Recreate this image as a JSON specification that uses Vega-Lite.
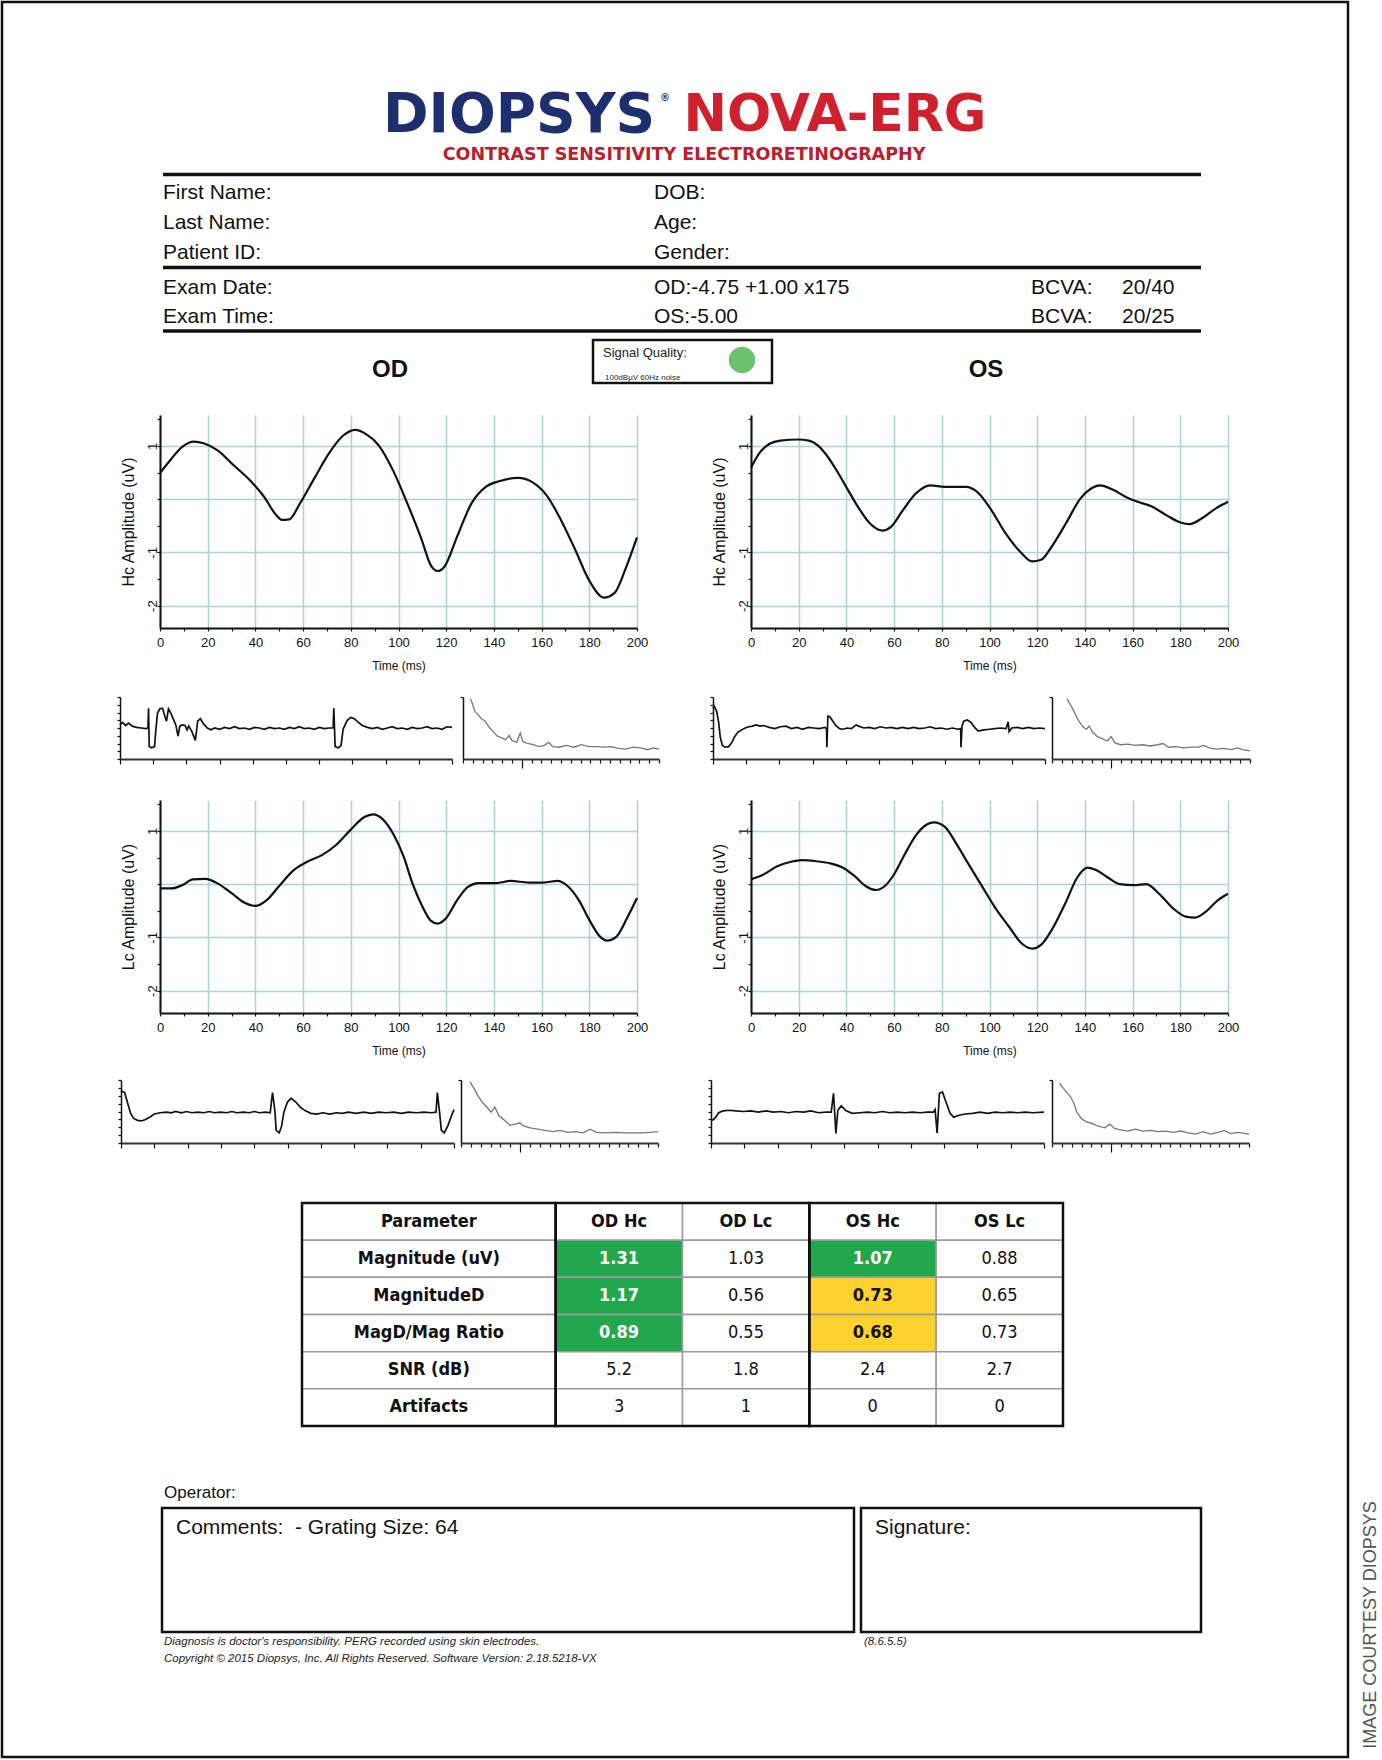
{
  "$schema": "https://vega.github.io/schema/vega-lite/v6.json",
  "width": 1346,
  "height": 1755,
  "autosize": {"type": "none"},
  "padding": {"left": 2, "top": 2, "right": 34, "bottom": 3},
  "background": "white",
  "config": {
    "view": {"stroke": "#111111", "strokeWidth": 2.5},
    "axis": {"domainColor": "#111111", "domainWidth": 2, "tickColor": "#111111", "tickWidth": 1.2, "tickSize": 3, "labelFont": "Liberation Sans", "labelFontSize": 13, "labelColor": "#111111", "titleFont": "Liberation Sans", "titleFontWeight": "normal", "titleColor": "#111111", "labelOverlap": false, "labelFlush": false, "grid": false},
    "text": {"font": "Liberation Sans"}
  },
  "resolve": {"scale": {"x": "independent", "y": "independent", "color": "independent", "size": "independent"}, "axis": {"x": "independent", "y": "independent"}},
  "datasets": {
    "info": [
      {"t": "First Name:", "c": 0, "r": 0}, {"t": "Last Name:", "c": 0, "r": 1}, {"t": "Patient ID:", "c": 0, "r": 2}, {"t": "Exam Date:", "c": 0, "r": 3}, {"t": "Exam Time:", "c": 0, "r": 4},
      {"t": "DOB:", "c": 1, "r": 0}, {"t": "Age:", "c": 1, "r": 1}, {"t": "Gender:", "c": 1, "r": 2}, {"t": "OD:-4.75 +1.00 x175", "c": 1, "r": 3}, {"t": "OS:-5.00", "c": 1, "r": 4},
      {"t": "BCVA:", "c": 2, "r": 3}, {"t": "BCVA:", "c": 2, "r": 4}, {"t": "20/40", "c": 3, "r": 3}, {"t": "20/25", "c": 3, "r": 4}
    ],
    "logo": [
      {"t": "DIOPSYS", "i": 0}, {"t": "NOVA-ERG", "i": 1}, {"t": "CONTRAST SENSITIVITY ELECTRORETINOGRAPHY", "i": 2}, {"t": "®", "i": 3}
    ],
    "eyes": [{"t": "OD", "i": 0}, {"t": "OS", "i": 1}],
    "sq": [{"t": "Signal Quality:", "i": 0}, {"t": "100dBµV 60Hz noise", "i": 1}],
    "sqdot": [{"i": 0}],
    "hlines": [{"line": 0, "a": 0, "b": 1}, {"line": 1, "a": 0, "b": 1}, {"line": 2, "a": 0, "b": 1}],
    "boxes": [
      {"box": "signal", "l": 0, "r": 1, "t": 0, "b": 1},
      {"box": "comments", "l": 2, "r": 3, "t": 2, "b": 3},
      {"box": "signature", "l": 4, "r": 5, "t": 2, "b": 3}
    ],
    "notes": [{"t": "Operator:", "i": 0}, {"t": "Comments:\u00a0 - Grating Size: 64", "i": 1}, {"t": "Signature:", "i": 2}],
    "foot": [
      {"t": "Diagnosis is doctor's responsibility. PERG recorded using skin electrodes.", "i": 0},
      {"t": "Copyright © 2015 Diopsys, Inc. All Rights Reserved. Software Version: 2.18.5218-VX", "i": 1},
      {"t": "(8.6.5.5)", "i": 2}
    ],
    "credit": [{"t": "IMAGE COURTESY DIOPSYS", "i": 0}],
    "hc_od": [
      {"ms": 0, "uV": 0.49}, {"ms": 4.8, "uV": 0.76}, {"ms": 9.3, "uV": 0.98}, {"ms": 14.1, "uV": 1.08}, {"ms": 18.3, "uV": 1.05}, {"ms": 24.3, "uV": 0.91}, {"ms": 30.3, "uV": 0.66}, {"ms": 37.8, "uV": 0.35}, {"ms": 43.7, "uV": 0.04}, {"ms": 48.2, "uV": -0.27}, {"ms": 51.2, "uV": -0.39}, {"ms": 54.2, "uV": -0.38}, {"ms": 58.7, "uV": -0.08}, {"ms": 64.7, "uV": 0.39}, {"ms": 70.7, "uV": 0.85}, {"ms": 76.7, "uV": 1.19}, {"ms": 81.9, "uV": 1.30}, {"ms": 86.4, "uV": 1.22}, {"ms": 91.7, "uV": 1.01}, {"ms": 97.7, "uV": 0.54}, {"ms": 103.7, "uV": -0.08}, {"ms": 109.7, "uV": -0.76}, {"ms": 113.4, "uV": -1.23}, {"ms": 116.4, "uV": -1.35}, {"ms": 119.4, "uV": -1.26}, {"ms": 124.6, "uV": -0.70}, {"ms": 130.6, "uV": -0.08}, {"ms": 136.6, "uV": 0.23}, {"ms": 142.6, "uV": 0.34}, {"ms": 150.1, "uV": 0.40}, {"ms": 156.1, "uV": 0.32}, {"ms": 162.1, "uV": 0.07}, {"ms": 168.1, "uV": -0.39}, {"ms": 174.1, "uV": -0.95}, {"ms": 180.1, "uV": -1.54}, {"ms": 186.1, "uV": -1.85}, {"ms": 190.6, "uV": -1.76}, {"ms": 195.1, "uV": -1.32}, {"ms": 200, "uV": -0.72}
    ],
    "hc_os": [
      {"ms": 0, "uV": 0.59}, {"ms": 3.3, "uV": 0.85}, {"ms": 7.8, "uV": 1.04}, {"ms": 12.3, "uV": 1.10}, {"ms": 19.8, "uV": 1.12}, {"ms": 24.3, "uV": 1.10}, {"ms": 28.0, "uV": 1.01}, {"ms": 31.8, "uV": 0.82}, {"ms": 36.3, "uV": 0.51}, {"ms": 40.7, "uV": 0.17}, {"ms": 45.2, "uV": -0.17}, {"ms": 49.7, "uV": -0.45}, {"ms": 55.0, "uV": -0.59}, {"ms": 58.7, "uV": -0.52}, {"ms": 63.2, "uV": -0.24}, {"ms": 69.2, "uV": 0.11}, {"ms": 75.2, "uV": 0.26}, {"ms": 81.2, "uV": 0.23}, {"ms": 90.2, "uV": 0.23}, {"ms": 94.7, "uV": 0.14}, {"ms": 100.7, "uV": -0.20}, {"ms": 106.7, "uV": -0.64}, {"ms": 112.7, "uV": -0.98}, {"ms": 117.9, "uV": -1.17}, {"ms": 121.6, "uV": -1.14}, {"ms": 126.1, "uV": -0.89}, {"ms": 132.1, "uV": -0.45}, {"ms": 138.1, "uV": 0.01}, {"ms": 142.6, "uV": 0.20}, {"ms": 146.4, "uV": 0.26}, {"ms": 151.6, "uV": 0.18}, {"ms": 157.6, "uV": 0.03}, {"ms": 162.1, "uV": -0.05}, {"ms": 168.1, "uV": -0.14}, {"ms": 174.1, "uV": -0.30}, {"ms": 180.1, "uV": -0.44}, {"ms": 183.8, "uV": -0.47}, {"ms": 189.1, "uV": -0.36}, {"ms": 195.1, "uV": -0.17}, {"ms": 200, "uV": -0.05}
    ],
    "lc_od": [
      {"ms": 0, "uV": -0.08}, {"ms": 4.8, "uV": -0.08}, {"ms": 9.3, "uV": -0.02}, {"ms": 13.8, "uV": 0.09}, {"ms": 19.0, "uV": 0.10}, {"ms": 24.3, "uV": 0.01}, {"ms": 30.3, "uV": -0.18}, {"ms": 35.5, "uV": -0.35}, {"ms": 40.0, "uV": -0.41}, {"ms": 44.5, "uV": -0.31}, {"ms": 49.7, "uV": -0.05}, {"ms": 55.7, "uV": 0.25}, {"ms": 61.7, "uV": 0.42}, {"ms": 67.7, "uV": 0.54}, {"ms": 73.7, "uV": 0.73}, {"ms": 79.7, "uV": 1.01}, {"ms": 85.7, "uV": 1.26}, {"ms": 89.4, "uV": 1.31}, {"ms": 93.1, "uV": 1.23}, {"ms": 97.7, "uV": 0.95}, {"ms": 102.2, "uV": 0.51}, {"ms": 105.9, "uV": 0.01}, {"ms": 109.7, "uV": -0.39}, {"ms": 113.4, "uV": -0.68}, {"ms": 116.4, "uV": -0.74}, {"ms": 120.1, "uV": -0.63}, {"ms": 124.6, "uV": -0.30}, {"ms": 129.1, "uV": -0.05}, {"ms": 133.6, "uV": 0.02}, {"ms": 141.1, "uV": 0.02}, {"ms": 147.1, "uV": 0.06}, {"ms": 154.6, "uV": 0.03}, {"ms": 160.6, "uV": 0.03}, {"ms": 166.6, "uV": 0.06}, {"ms": 171.0, "uV": -0.04}, {"ms": 175.6, "uV": -0.30}, {"ms": 180.1, "uV": -0.68}, {"ms": 184.6, "uV": -0.99}, {"ms": 187.5, "uV": -1.06}, {"ms": 191.3, "uV": -0.99}, {"ms": 195.8, "uV": -0.64}, {"ms": 200, "uV": -0.26}
    ],
    "lc_os": [
      {"ms": 0, "uV": 0.09}, {"ms": 4.8, "uV": 0.17}, {"ms": 10.8, "uV": 0.33}, {"ms": 16.8, "uV": 0.42}, {"ms": 21.3, "uV": 0.45}, {"ms": 27.3, "uV": 0.43}, {"ms": 33.3, "uV": 0.39}, {"ms": 39.3, "uV": 0.29}, {"ms": 43.7, "uV": 0.14}, {"ms": 48.2, "uV": -0.04}, {"ms": 52.4, "uV": -0.11}, {"ms": 56.5, "uV": -0.02}, {"ms": 60.2, "uV": 0.20}, {"ms": 64.7, "uV": 0.58}, {"ms": 69.2, "uV": 0.92}, {"ms": 73.7, "uV": 1.12}, {"ms": 76.7, "uV": 1.16}, {"ms": 81.2, "uV": 1.08}, {"ms": 85.7, "uV": 0.79}, {"ms": 90.2, "uV": 0.45}, {"ms": 96.2, "uV": 0.01}, {"ms": 102.2, "uV": -0.43}, {"ms": 108.2, "uV": -0.80}, {"ms": 113.4, "uV": -1.11}, {"ms": 117.9, "uV": -1.21}, {"ms": 121.6, "uV": -1.14}, {"ms": 126.1, "uV": -0.86}, {"ms": 132.1, "uV": -0.33}, {"ms": 136.6, "uV": 0.11}, {"ms": 141.1, "uV": 0.31}, {"ms": 144.9, "uV": 0.26}, {"ms": 150.1, "uV": 0.11}, {"ms": 154.6, "uV": 0.00}, {"ms": 160.6, "uV": -0.02}, {"ms": 165.8, "uV": 0.00}, {"ms": 171.1, "uV": -0.18}, {"ms": 177.1, "uV": -0.46}, {"ms": 182.3, "uV": -0.61}, {"ms": 186.1, "uV": -0.63}, {"ms": 190.6, "uV": -0.52}, {"ms": 195.8, "uV": -0.30}, {"ms": 200, "uV": -0.18}
    ],
    "n_hc_od_t": [
      {"x": 0, "y": 5.5}, {"x": 0.8, "y": 5.9}, {"x": 1.7, "y": 5.4}, {"x": 2.6, "y": 5.8}, {"x": 3.7, "y": 5.3}, {"x": 5.0, "y": 5.1}, {"x": 6.4, "y": 5.0}, {"x": 7.8, "y": 4.9}, {"x": 8.4, "y": 5.0}, {"x": 8.6, "y": 8.2}, {"x": 8.8, "y": 2.0}, {"x": 9.5, "y": 1.8}, {"x": 10.4, "y": 2.0}, {"x": 10.8, "y": 4.7}, {"x": 11.3, "y": 7.4}, {"x": 12.0, "y": 8.1}, {"x": 12.8, "y": 8.2}, {"x": 13.5, "y": 6.9}, {"x": 14.0, "y": 6.1}, {"x": 14.6, "y": 8.1}, {"x": 15.3, "y": 7.4}, {"x": 16.0, "y": 6.5}, {"x": 16.8, "y": 5.5}, {"x": 17.5, "y": 3.7}, {"x": 18.0, "y": 5.3}, {"x": 18.7, "y": 5.5}, {"x": 19.6, "y": 5.4}, {"x": 20.2, "y": 4.7}, {"x": 20.7, "y": 5.3}, {"x": 21.6, "y": 4.5}, {"x": 22.7, "y": 3.0}, {"x": 23.4, "y": 6.1}, {"x": 24.2, "y": 6.5}, {"x": 25.1, "y": 5.7}, {"x": 26.3, "y": 5.0}, {"x": 27.4, "y": 4.7}, {"x": 28.5, "y": 5.0}, {"x": 30, "y": 4.8}, {"x": 31.5, "y": 5.1}, {"x": 33, "y": 4.9}, {"x": 34.5, "y": 5.2}, {"x": 36, "y": 4.9}, {"x": 37.5, "y": 5.0}, {"x": 39, "y": 4.8}, {"x": 40.5, "y": 5.1}, {"x": 42, "y": 5.0}, {"x": 43.5, "y": 4.8}, {"x": 45, "y": 5.1}, {"x": 46.5, "y": 4.9}, {"x": 48, "y": 5.0}, {"x": 49.5, "y": 4.8}, {"x": 51, "y": 5.1}, {"x": 52.5, "y": 4.9}, {"x": 54, "y": 5.2}, {"x": 55.5, "y": 4.9}, {"x": 57, "y": 5.0}, {"x": 58.5, "y": 4.8}, {"x": 60, "y": 5.1}, {"x": 61.5, "y": 4.9}, {"x": 63, "y": 5.0}, {"x": 64.2, "y": 5.0}, {"x": 64.4, "y": 8.2}, {"x": 64.8, "y": 2.0}, {"x": 65.8, "y": 1.8}, {"x": 66.6, "y": 2.2}, {"x": 67.2, "y": 4.8}, {"x": 68.4, "y": 6.2}, {"x": 69.5, "y": 6.7}, {"x": 70.6, "y": 6.5}, {"x": 71.8, "y": 5.9}, {"x": 73, "y": 5.4}, {"x": 74.5, "y": 5.1}, {"x": 76, "y": 4.9}, {"x": 77.5, "y": 5.1}, {"x": 79, "y": 4.8}, {"x": 80.5, "y": 5.0}, {"x": 82, "y": 5.2}, {"x": 83.5, "y": 4.9}, {"x": 85, "y": 5.0}, {"x": 86.5, "y": 4.8}, {"x": 88, "y": 5.1}, {"x": 89.5, "y": 4.9}, {"x": 91, "y": 5.0}, {"x": 92.5, "y": 5.2}, {"x": 94, "y": 4.9}, {"x": 95.5, "y": 5.0}, {"x": 97, "y": 4.8}, {"x": 98.5, "y": 5.2}, {"x": 100, "y": 5.1}
    ],
    "n_hc_od_f": [
      {"x": 3.8, "y": 9.7}, {"x": 4.7, "y": 9.0}, {"x": 6.0, "y": 7.7}, {"x": 7.5, "y": 7.2}, {"x": 9.4, "y": 6.5}, {"x": 11.3, "y": 6.1}, {"x": 13.2, "y": 5.2}, {"x": 15.1, "y": 4.5}, {"x": 17.4, "y": 3.7}, {"x": 19.8, "y": 3.4}, {"x": 21.7, "y": 3.1}, {"x": 23.6, "y": 3.8}, {"x": 24.9, "y": 3.0}, {"x": 27.4, "y": 2.7}, {"x": 29.2, "y": 4.2}, {"x": 30.6, "y": 2.8}, {"x": 33.0, "y": 2.5}, {"x": 35.8, "y": 2.3}, {"x": 38.7, "y": 2.0}, {"x": 41.5, "y": 2.2}, {"x": 43.8, "y": 2.7}, {"x": 45.7, "y": 2.0}, {"x": 49.1, "y": 1.9}, {"x": 52.8, "y": 2.2}, {"x": 56.6, "y": 1.9}, {"x": 60.4, "y": 2.3}, {"x": 64.2, "y": 2.0}, {"x": 67.9, "y": 2.0}, {"x": 71.7, "y": 1.9}, {"x": 75.5, "y": 2.0}, {"x": 79.2, "y": 1.7}, {"x": 83.0, "y": 1.6}, {"x": 86.8, "y": 1.9}, {"x": 90.6, "y": 1.8}, {"x": 94.3, "y": 1.5}, {"x": 97.2, "y": 1.8}, {"x": 100, "y": 1.6}
    ],
    "n_hc_os_t": [
      {"x": 0, "y": 8.2}, {"x": 0.4, "y": 8.5}, {"x": 1.1, "y": 7.7}, {"x": 1.7, "y": 5.9}, {"x": 2.2, "y": 3.5}, {"x": 2.8, "y": 2.2}, {"x": 3.6, "y": 1.9}, {"x": 4.7, "y": 2.0}, {"x": 5.6, "y": 2.6}, {"x": 6.5, "y": 3.6}, {"x": 7.5, "y": 4.3}, {"x": 8.6, "y": 4.7}, {"x": 9.7, "y": 5.0}, {"x": 10.8, "y": 5.2}, {"x": 11.9, "y": 5.3}, {"x": 13.0, "y": 5.5}, {"x": 14.2, "y": 5.3}, {"x": 15.3, "y": 5.4}, {"x": 16.9, "y": 5.1}, {"x": 18.6, "y": 4.9}, {"x": 20.3, "y": 5.2}, {"x": 22.0, "y": 5.3}, {"x": 23.6, "y": 4.9}, {"x": 25.3, "y": 5.1}, {"x": 27.0, "y": 4.8}, {"x": 28.7, "y": 5.1}, {"x": 30.3, "y": 5.0}, {"x": 32.0, "y": 4.9}, {"x": 33.7, "y": 5.1}, {"x": 34.2, "y": 4.9}, {"x": 34.3, "y": 1.9}, {"x": 34.6, "y": 6.9}, {"x": 35.2, "y": 6.8}, {"x": 36.1, "y": 6.1}, {"x": 37.0, "y": 5.4}, {"x": 38.1, "y": 4.9}, {"x": 39.2, "y": 4.8}, {"x": 40.4, "y": 5.0}, {"x": 41.7, "y": 4.9}, {"x": 43.1, "y": 5.5}, {"x": 43.9, "y": 5.3}, {"x": 45.4, "y": 5.0}, {"x": 47.0, "y": 5.1}, {"x": 48.7, "y": 4.9}, {"x": 50.4, "y": 5.2}, {"x": 52.1, "y": 5.0}, {"x": 53.7, "y": 5.1}, {"x": 55.4, "y": 4.9}, {"x": 57.1, "y": 5.1}, {"x": 58.8, "y": 4.9}, {"x": 60.4, "y": 5.1}, {"x": 62.1, "y": 4.9}, {"x": 63.8, "y": 5.0}, {"x": 65.4, "y": 5.2}, {"x": 67.1, "y": 4.9}, {"x": 68.8, "y": 5.0}, {"x": 70.5, "y": 4.8}, {"x": 72.1, "y": 5.0}, {"x": 73.8, "y": 4.8}, {"x": 74.6, "y": 4.9}, {"x": 74.7, "y": 1.9}, {"x": 75.0, "y": 5.3}, {"x": 75.5, "y": 6.1}, {"x": 76.6, "y": 6.3}, {"x": 77.7, "y": 5.9}, {"x": 78.8, "y": 5.1}, {"x": 79.9, "y": 4.5}, {"x": 81.6, "y": 4.7}, {"x": 83.3, "y": 4.8}, {"x": 84.9, "y": 4.9}, {"x": 86.6, "y": 5.0}, {"x": 88.3, "y": 4.9}, {"x": 88.9, "y": 6.0}, {"x": 89.2, "y": 4.4}, {"x": 90.0, "y": 5.0}, {"x": 91.6, "y": 5.1}, {"x": 93.3, "y": 4.9}, {"x": 95.0, "y": 5.1}, {"x": 96.7, "y": 4.9}, {"x": 98.3, "y": 5.0}, {"x": 100, "y": 4.9}
    ],
    "n_hc_os_f": [
      {"x": 7.5, "y": 9.7}, {"x": 8.8, "y": 9.0}, {"x": 10.3, "y": 8.2}, {"x": 11.8, "y": 7.2}, {"x": 13.6, "y": 6.1}, {"x": 15.9, "y": 5.1}, {"x": 17.4, "y": 4.8}, {"x": 18.7, "y": 5.3}, {"x": 20.6, "y": 4.3}, {"x": 23.0, "y": 3.6}, {"x": 25.2, "y": 3.3}, {"x": 28.0, "y": 2.9}, {"x": 29.9, "y": 3.6}, {"x": 31.8, "y": 2.6}, {"x": 34.6, "y": 2.3}, {"x": 38.3, "y": 2.4}, {"x": 42.1, "y": 2.2}, {"x": 45.8, "y": 2.3}, {"x": 49.5, "y": 2.1}, {"x": 53.3, "y": 2.3}, {"x": 56.1, "y": 2.5}, {"x": 58.9, "y": 1.9}, {"x": 62.6, "y": 2.0}, {"x": 66.4, "y": 1.8}, {"x": 70.1, "y": 1.9}, {"x": 73.8, "y": 1.9}, {"x": 76.6, "y": 2.2}, {"x": 79.4, "y": 1.8}, {"x": 83.2, "y": 1.6}, {"x": 86.9, "y": 1.7}, {"x": 90.7, "y": 1.5}, {"x": 93.5, "y": 1.8}, {"x": 96.3, "y": 1.5}, {"x": 100, "y": 1.3}
    ],
    "n_lc_od_t": [
      {"x": 0, "y": 8.3}, {"x": 1.1, "y": 8.0}, {"x": 2.0, "y": 6.3}, {"x": 2.9, "y": 4.7}, {"x": 3.8, "y": 3.9}, {"x": 5.0, "y": 3.6}, {"x": 6.1, "y": 3.5}, {"x": 7.2, "y": 3.7}, {"x": 8.6, "y": 4.1}, {"x": 10.0, "y": 4.6}, {"x": 11.8, "y": 4.8}, {"x": 13.6, "y": 4.9}, {"x": 15.2, "y": 4.8}, {"x": 16.3, "y": 5.0}, {"x": 18.1, "y": 4.8}, {"x": 19.7, "y": 5.0}, {"x": 21.3, "y": 4.8}, {"x": 23.1, "y": 4.9}, {"x": 24.9, "y": 4.8}, {"x": 26.5, "y": 5.0}, {"x": 28.1, "y": 4.8}, {"x": 29.9, "y": 4.9}, {"x": 31.7, "y": 4.8}, {"x": 33.3, "y": 5.0}, {"x": 34.8, "y": 4.8}, {"x": 36.7, "y": 4.9}, {"x": 38.5, "y": 4.8}, {"x": 40.0, "y": 5.0}, {"x": 41.6, "y": 4.8}, {"x": 43.4, "y": 4.9}, {"x": 44.8, "y": 4.8}, {"x": 45.5, "y": 8.0}, {"x": 46.2, "y": 5.2}, {"x": 46.6, "y": 2.0}, {"x": 47.5, "y": 1.6}, {"x": 48.2, "y": 2.6}, {"x": 48.9, "y": 4.9}, {"x": 50.0, "y": 6.5}, {"x": 51.1, "y": 7.1}, {"x": 52.5, "y": 6.5}, {"x": 53.8, "y": 5.7}, {"x": 55.4, "y": 5.1}, {"x": 57.0, "y": 4.7}, {"x": 58.8, "y": 4.6}, {"x": 60.6, "y": 4.8}, {"x": 62.7, "y": 4.6}, {"x": 64.7, "y": 4.8}, {"x": 66.5, "y": 4.7}, {"x": 68.3, "y": 4.9}, {"x": 70.6, "y": 4.7}, {"x": 72.9, "y": 4.9}, {"x": 75.1, "y": 4.7}, {"x": 77.4, "y": 4.9}, {"x": 79.6, "y": 4.8}, {"x": 81.9, "y": 4.9}, {"x": 84.2, "y": 4.7}, {"x": 86.4, "y": 4.9}, {"x": 88.7, "y": 4.8}, {"x": 91.0, "y": 4.9}, {"x": 93.2, "y": 4.8}, {"x": 94.6, "y": 4.9}, {"x": 95.0, "y": 8.0}, {"x": 95.7, "y": 4.7}, {"x": 96.2, "y": 2.0}, {"x": 97.1, "y": 1.6}, {"x": 98.2, "y": 2.8}, {"x": 99.3, "y": 4.4}, {"x": 100, "y": 5.3}
    ],
    "n_lc_od_f": [
      {"x": 4.6, "y": 9.7}, {"x": 6.5, "y": 8.7}, {"x": 8.4, "y": 7.6}, {"x": 10.7, "y": 6.5}, {"x": 13.4, "y": 5.6}, {"x": 15.3, "y": 4.9}, {"x": 17.2, "y": 5.7}, {"x": 19.1, "y": 4.4}, {"x": 22.1, "y": 3.6}, {"x": 24.8, "y": 2.8}, {"x": 27.5, "y": 3.0}, {"x": 29.8, "y": 3.2}, {"x": 31.7, "y": 2.7}, {"x": 35.1, "y": 2.4}, {"x": 38.9, "y": 2.2}, {"x": 42.7, "y": 2.0}, {"x": 46.6, "y": 1.8}, {"x": 50.4, "y": 2.0}, {"x": 54.2, "y": 1.7}, {"x": 58.0, "y": 1.8}, {"x": 61.8, "y": 1.6}, {"x": 65.6, "y": 2.2}, {"x": 68.7, "y": 1.7}, {"x": 73.3, "y": 1.6}, {"x": 78.2, "y": 1.7}, {"x": 83.2, "y": 1.6}, {"x": 87.8, "y": 1.6}, {"x": 92.4, "y": 1.6}, {"x": 96.2, "y": 1.7}, {"x": 100, "y": 1.8}
    ],
    "n_lc_os_t": [
      {"x": 0, "y": 3.6}, {"x": 0.7, "y": 3.7}, {"x": 1.4, "y": 4.1}, {"x": 2.3, "y": 4.8}, {"x": 3.6, "y": 5.1}, {"x": 5.4, "y": 5.2}, {"x": 7.4, "y": 5.1}, {"x": 9.7, "y": 5.0}, {"x": 12.0, "y": 5.1}, {"x": 14.2, "y": 4.9}, {"x": 16.5, "y": 5.1}, {"x": 18.7, "y": 4.9}, {"x": 21.0, "y": 5.0}, {"x": 23.3, "y": 4.8}, {"x": 25.5, "y": 5.0}, {"x": 27.8, "y": 4.9}, {"x": 30.0, "y": 5.1}, {"x": 32.3, "y": 4.8}, {"x": 34.5, "y": 4.9}, {"x": 36.1, "y": 4.9}, {"x": 36.8, "y": 7.9}, {"x": 37.5, "y": 1.5}, {"x": 38.1, "y": 5.2}, {"x": 39.1, "y": 5.9}, {"x": 40.6, "y": 5.1}, {"x": 42.4, "y": 4.7}, {"x": 44.7, "y": 4.8}, {"x": 47.0, "y": 4.9}, {"x": 49.2, "y": 4.8}, {"x": 51.5, "y": 5.0}, {"x": 53.7, "y": 4.8}, {"x": 56.0, "y": 4.9}, {"x": 58.2, "y": 4.8}, {"x": 60.5, "y": 4.9}, {"x": 62.8, "y": 4.8}, {"x": 65.0, "y": 4.9}, {"x": 66.8, "y": 4.9}, {"x": 67.3, "y": 5.3}, {"x": 67.9, "y": 1.6}, {"x": 68.6, "y": 7.9}, {"x": 69.5, "y": 8.1}, {"x": 70.7, "y": 6.3}, {"x": 71.8, "y": 4.7}, {"x": 72.9, "y": 4.1}, {"x": 74.5, "y": 4.4}, {"x": 76.3, "y": 4.6}, {"x": 78.6, "y": 4.7}, {"x": 80.8, "y": 4.9}, {"x": 83.1, "y": 4.7}, {"x": 85.3, "y": 4.9}, {"x": 87.6, "y": 4.8}, {"x": 89.8, "y": 4.9}, {"x": 92.1, "y": 4.8}, {"x": 94.4, "y": 4.9}, {"x": 96.6, "y": 4.8}, {"x": 100, "y": 4.9}
    ],
    "n_lc_os_f": [
      {"x": 3.8, "y": 9.5}, {"x": 5.7, "y": 8.7}, {"x": 7.6, "y": 8.0}, {"x": 9.5, "y": 7.3}, {"x": 11.1, "y": 6.3}, {"x": 12.6, "y": 4.9}, {"x": 14.9, "y": 3.9}, {"x": 17.2, "y": 3.4}, {"x": 20.2, "y": 3.1}, {"x": 23.3, "y": 2.7}, {"x": 26.7, "y": 2.4}, {"x": 29.4, "y": 3.0}, {"x": 31.7, "y": 2.3}, {"x": 34.7, "y": 2.1}, {"x": 38.5, "y": 1.9}, {"x": 42.4, "y": 2.2}, {"x": 46.2, "y": 1.9}, {"x": 50.0, "y": 2.0}, {"x": 53.8, "y": 1.8}, {"x": 57.6, "y": 1.9}, {"x": 61.5, "y": 1.7}, {"x": 65.3, "y": 1.9}, {"x": 69.1, "y": 1.6}, {"x": 72.9, "y": 1.4}, {"x": 76.7, "y": 1.8}, {"x": 80.5, "y": 1.4}, {"x": 84.4, "y": 1.7}, {"x": 87.4, "y": 2.0}, {"x": 90.5, "y": 1.5}, {"x": 94.3, "y": 1.7}, {"x": 100, "y": 1.4}
    ],
    "cells": [
      {"p": "Parameter", "c": "OD Hc", "v": "OD Hc", "k": "head", "f": "none"},
      {"p": "Parameter", "c": "OD Lc", "v": "OD Lc", "k": "head", "f": "none"},
      {"p": "Parameter", "c": "OS Hc", "v": "OS Hc", "k": "head", "f": "none"},
      {"p": "Parameter", "c": "OS Lc", "v": "OS Lc", "k": "head", "f": "none"},
      {"p": "Magnitude (uV)", "c": "OD Hc", "v": "1.31", "k": "hi", "f": "green"},
      {"p": "Magnitude (uV)", "c": "OD Lc", "v": "1.03", "k": "plain", "f": "none"},
      {"p": "Magnitude (uV)", "c": "OS Hc", "v": "1.07", "k": "hi", "f": "green"},
      {"p": "Magnitude (uV)", "c": "OS Lc", "v": "0.88", "k": "plain", "f": "none"},
      {"p": "MagnitudeD", "c": "OD Hc", "v": "1.17", "k": "hi", "f": "green"},
      {"p": "MagnitudeD", "c": "OD Lc", "v": "0.56", "k": "plain", "f": "none"},
      {"p": "MagnitudeD", "c": "OS Hc", "v": "0.73", "k": "hi", "f": "yellow"},
      {"p": "MagnitudeD", "c": "OS Lc", "v": "0.65", "k": "plain", "f": "none"},
      {"p": "MagD/Mag Ratio", "c": "OD Hc", "v": "0.89", "k": "hi", "f": "green"},
      {"p": "MagD/Mag Ratio", "c": "OD Lc", "v": "0.55", "k": "plain", "f": "none"},
      {"p": "MagD/Mag Ratio", "c": "OS Hc", "v": "0.68", "k": "hi", "f": "yellow"},
      {"p": "MagD/Mag Ratio", "c": "OS Lc", "v": "0.73", "k": "plain", "f": "none"},
      {"p": "SNR (dB)", "c": "OD Hc", "v": "5.2", "k": "plain", "f": "none"},
      {"p": "SNR (dB)", "c": "OD Lc", "v": "1.8", "k": "plain", "f": "none"},
      {"p": "SNR (dB)", "c": "OS Hc", "v": "2.4", "k": "plain", "f": "none"},
      {"p": "SNR (dB)", "c": "OS Lc", "v": "2.7", "k": "plain", "f": "none"},
      {"p": "Artifacts", "c": "OD Hc", "v": "3", "k": "plain", "f": "none"},
      {"p": "Artifacts", "c": "OD Lc", "v": "1", "k": "plain", "f": "none"},
      {"p": "Artifacts", "c": "OS Hc", "v": "0", "k": "plain", "f": "none"},
      {"p": "Artifacts", "c": "OS Lc", "v": "0", "k": "plain", "f": "none"}
    ],
    "params": [
      {"p": "Parameter", "g": "Parameter"}, {"p": "Magnitude (uV)", "g": "Parameter"}, {"p": "MagnitudeD", "g": "Parameter"},
      {"p": "MagD/Mag Ratio", "g": "Parameter"}, {"p": "SNR (dB)", "g": "Parameter"}, {"p": "Artifacts", "g": "Parameter"}
    ],
    "groups": [{"g": "Parameter", "s": "all"}, {"g": "OD", "s": "all"}, {"g": "OS", "s": "all"}]
  },
  "layer": [
    {
      "data": {"name": "hlines"},
      "mark": {"type": "rule", "color": "#111111", "strokeWidth": 3.5},
      "encoding": {
        "x": {"field": "a", "type": "quantitative", "scale": {"domain": [0, 1], "range": [161, 1199], "nice": false, "zero": false}, "axis": null},
        "x2": {"field": "b"},
        "y": {"field": "line", "type": "quantitative", "scale": {"domain": [0, 1, 2], "range": [172.5, 265.5, 329], "nice": false, "zero": false}, "axis": null}
      }
    },
    {
      "data": {"name": "logo"},
      "mark": {"type": "text", "align": "center", "baseline": "middle", "fontWeight": "bold", "font": "DejaVu Sans"},
      "encoding": {
        "x": {"field": "i", "type": "quantitative", "scale": {"domain": [0, 1, 2, 3], "range": [517, 833, 682, 663], "nice": false, "zero": false}, "axis": null},
        "y": {"field": "i", "type": "quantitative", "scale": {"domain": [0, 1, 2, 3], "range": [113, 113, 153, 96], "nice": false, "zero": false}, "axis": null},
        "size": {"field": "i", "type": "quantitative", "scale": {"domain": [0, 1, 2, 3], "range": [55, 52, 17.5, 10], "zero": false}, "legend": null},
        "color": {"field": "i", "type": "nominal", "scale": {"domain": [0, 1, 2, 3], "range": ["#1F2E6E", "#D0202E", "#B8202E", "#1F2E6E"]}, "legend": null},
        "text": {"field": "t"}
      }
    },
    {
      "data": {"name": "info"},
      "mark": {"type": "text", "align": "left", "baseline": "middle", "fontSize": 21, "font": "Liberation Sans", "color": "#111111"},
      "encoding": {
        "x": {"field": "c", "type": "quantitative", "scale": {"domain": [0, 1, 2, 3], "range": [161, 652, 1029, 1120], "nice": false, "zero": false}, "axis": null},
        "y": {"field": "r", "type": "quantitative", "scale": {"domain": [0, 1, 2, 3, 4], "range": [191, 221, 251, 286, 315], "nice": false, "zero": false}, "axis": null},
        "text": {"field": "t"}
      }
    },
    {
      "data": {"name": "boxes"},
      "mark": {"type": "rect", "filled": false, "stroke": "#111111", "strokeWidth": 2.5},
      "encoding": {
        "x": {"field": "l", "type": "quantitative", "scale": {"domain": [0, 1, 2, 3, 4, 5], "range": [591, 770, 160, 852, 859, 1199], "nice": false, "zero": false}, "axis": null},
        "x2": {"field": "r"},
        "y": {"field": "t", "type": "quantitative", "scale": {"domain": [0, 1, 2, 3], "range": [338, 381, 1506, 1630], "nice": false, "zero": false}, "axis": null},
        "y2": {"field": "b"}
      }
    },
    {
      "data": {"name": "sq"},
      "mark": {"type": "text", "align": "left", "baseline": "middle", "font": "Liberation Sans", "color": "#222222"},
      "encoding": {
        "x": {"field": "i", "type": "quantitative", "scale": {"domain": [0, 1], "range": [601, 603], "nice": false, "zero": false}, "axis": null},
        "y": {"field": "i", "type": "quantitative", "scale": {"domain": [0, 1], "range": [351, 376], "nice": false, "zero": false}, "axis": null},
        "size": {"field": "i", "type": "quantitative", "scale": {"domain": [0, 1], "range": [13, 8], "zero": false}, "legend": null},
        "text": {"field": "t"}
      }
    },
    {
      "data": {"name": "sqdot"},
      "mark": {"type": "point", "shape": "circle", "filled": true, "size": 700, "color": "#6CC26C", "opacity": 1},
      "encoding": {
        "x": {"field": "i", "type": "quantitative", "scale": {"domain": [0, 1], "range": [740, 741], "nice": false, "zero": false}, "axis": null},
        "y": {"field": "i", "type": "quantitative", "scale": {"domain": [0, 1], "range": [358, 359], "nice": false, "zero": false}, "axis": null}
      }
    },
    {
      "data": {"name": "eyes"},
      "mark": {"type": "text", "align": "center", "baseline": "middle", "fontSize": 24, "fontWeight": "bold", "font": "Liberation Sans", "color": "#111111"},
      "encoding": {
        "x": {"field": "i", "type": "quantitative", "scale": {"domain": [0, 1], "range": [388, 984], "nice": false, "zero": false}, "axis": null},
        "y": {"field": "i", "type": "quantitative", "scale": {"domain": [0, 1], "range": [368, 368], "nice": false, "zero": false}, "axis": null},
        "text": {"field": "t"}
      }
    },
    {
      "data": {"name": "hc_od"},
      "mark": {"type": "line", "strokeOpacity": 0},
      "encoding": {
        "x": {"field": "ms", "type": "quantitative", "scale": {"domain": [0, 200], "range": [158, 635], "nice": false, "zero": false}, "axis": {"orient": "top", "grid": true, "gridColor": "#A6D3DE", "gridWidth": 1.5, "domain": false, "ticks": false, "labels": false, "title": null, "values": [0, 20, 40, 60, 80, 100, 120, 140, 160, 180, 200]}},
        "y": {"field": "uV", "type": "quantitative", "scale": {"domain": [-2.42, 1.58], "range": [626, 413], "nice": false, "zero": false}, "axis": {"orient": "left", "grid": true, "gridColor": "#A6D3DE", "gridWidth": 1.5, "domain": false, "ticks": false, "labels": false, "title": null, "values": [-2, -1, 0, 1]}}
      }
    },
    {
      "data": {"name": "hc_od"},
      "mark": {"type": "line", "color": "#111111", "strokeWidth": 2.2, "interpolate": "monotone"},
      "encoding": {
        "x": {"field": "ms", "type": "quantitative", "scale": {"domain": [0, 200], "range": [158, 635], "nice": false, "zero": false}, "axis": {"orient": "bottom", "offset": -1129, "values": [0, 10, 20, 30, 40, 50, 60, 70, 80, 90, 100, 110, 120, 130, 140, 150, 160, 170, 180, 190, 200], "labelExpr": "datum.value % 20 === 0 ? datum.label : ''", "labelPadding": 5, "title": "Time (ms)", "titleFontSize": 12, "titlePadding": 11}},
        "y": {"field": "uV", "type": "quantitative", "scale": {"domain": [-2.42, 1.58], "range": [626, 413], "nice": false, "zero": false}, "axis": {"orient": "left", "offset": -158, "values": [-2, -1.5, -1, -0.5, 0, 0.5, 1, 1.5], "labelExpr": "datum.value === 1 ? '1' : datum.value === -1 ? '-1' : datum.value === -2 ? '-2' : ''", "labelAngle": 270, "labelAlign": "center", "labelBaseline": "alphabetic", "labelPadding": 1, "title": "Hc Amplitude (uV)", "titleFontSize": 16, "titlePadding": 10}}
      }
    },
    {
      "data": {"name": "hc_os"},
      "mark": {"type": "line", "strokeOpacity": 0},
      "encoding": {
        "x": {"field": "ms", "type": "quantitative", "scale": {"domain": [0, 200], "range": [749, 1226], "nice": false, "zero": false}, "axis": {"orient": "top", "grid": true, "gridColor": "#A6D3DE", "gridWidth": 1.5, "domain": false, "ticks": false, "labels": false, "title": null, "values": [0, 20, 40, 60, 80, 100, 120, 140, 160, 180, 200]}},
        "y": {"field": "uV", "type": "quantitative", "scale": {"domain": [-2.42, 1.58], "range": [626, 413], "nice": false, "zero": false}, "axis": {"orient": "left", "grid": true, "gridColor": "#A6D3DE", "gridWidth": 1.5, "domain": false, "ticks": false, "labels": false, "title": null, "values": [-2, -1, 0, 1]}}
      }
    },
    {
      "data": {"name": "hc_os"},
      "mark": {"type": "line", "color": "#111111", "strokeWidth": 2.2, "interpolate": "monotone"},
      "encoding": {
        "x": {"field": "ms", "type": "quantitative", "scale": {"domain": [0, 200], "range": [749, 1226], "nice": false, "zero": false}, "axis": {"orient": "bottom", "offset": -1129, "values": [0, 10, 20, 30, 40, 50, 60, 70, 80, 90, 100, 110, 120, 130, 140, 150, 160, 170, 180, 190, 200], "labelExpr": "datum.value % 20 === 0 ? datum.label : ''", "labelPadding": 5, "title": "Time (ms)", "titleFontSize": 12, "titlePadding": 11}},
        "y": {"field": "uV", "type": "quantitative", "scale": {"domain": [-2.42, 1.58], "range": [626, 413], "nice": false, "zero": false}, "axis": {"orient": "left", "offset": -749, "values": [-2, -1.5, -1, -0.5, 0, 0.5, 1, 1.5], "labelExpr": "datum.value === 1 ? '1' : datum.value === -1 ? '-1' : datum.value === -2 ? '-2' : ''", "labelAngle": 270, "labelAlign": "center", "labelBaseline": "alphabetic", "labelPadding": 1, "title": "Hc Amplitude (uV)", "titleFontSize": 16, "titlePadding": 10}}
      }
    },
    {
      "data": {"name": "lc_od"},
      "mark": {"type": "line", "strokeOpacity": 0},
      "encoding": {
        "x": {"field": "ms", "type": "quantitative", "scale": {"domain": [0, 200], "range": [158, 635], "nice": false, "zero": false}, "axis": {"orient": "top", "grid": true, "gridColor": "#A6D3DE", "gridWidth": 1.5, "domain": false, "ticks": false, "labels": false, "title": null, "values": [0, 20, 40, 60, 80, 100, 120, 140, 160, 180, 200]}},
        "y": {"field": "uV", "type": "quantitative", "scale": {"domain": [-2.42, 1.58], "range": [1011, 798], "nice": false, "zero": false}, "axis": {"orient": "left", "grid": true, "gridColor": "#A6D3DE", "gridWidth": 1.5, "domain": false, "ticks": false, "labels": false, "title": null, "values": [-2, -1, 0, 1]}}
      }
    },
    {
      "data": {"name": "lc_od"},
      "mark": {"type": "line", "color": "#111111", "strokeWidth": 2.2, "interpolate": "monotone"},
      "encoding": {
        "x": {"field": "ms", "type": "quantitative", "scale": {"domain": [0, 200], "range": [158, 635], "nice": false, "zero": false}, "axis": {"orient": "bottom", "offset": -744, "values": [0, 10, 20, 30, 40, 50, 60, 70, 80, 90, 100, 110, 120, 130, 140, 150, 160, 170, 180, 190, 200], "labelExpr": "datum.value % 20 === 0 ? datum.label : ''", "labelPadding": 5, "title": "Time (ms)", "titleFontSize": 12, "titlePadding": 11}},
        "y": {"field": "uV", "type": "quantitative", "scale": {"domain": [-2.42, 1.58], "range": [1011, 798], "nice": false, "zero": false}, "axis": {"orient": "left", "offset": -158, "values": [-2, -1.5, -1, -0.5, 0, 0.5, 1, 1.5], "labelExpr": "datum.value === 1 ? '1' : datum.value === -1 ? '-1' : datum.value === -2 ? '-2' : ''", "labelAngle": 270, "labelAlign": "center", "labelBaseline": "alphabetic", "labelPadding": 1, "title": "Lc Amplitude (uV)", "titleFontSize": 16, "titlePadding": 10}}
      }
    },
    {
      "data": {"name": "lc_os"},
      "mark": {"type": "line", "strokeOpacity": 0},
      "encoding": {
        "x": {"field": "ms", "type": "quantitative", "scale": {"domain": [0, 200], "range": [749, 1226], "nice": false, "zero": false}, "axis": {"orient": "top", "grid": true, "gridColor": "#A6D3DE", "gridWidth": 1.5, "domain": false, "ticks": false, "labels": false, "title": null, "values": [0, 20, 40, 60, 80, 100, 120, 140, 160, 180, 200]}},
        "y": {"field": "uV", "type": "quantitative", "scale": {"domain": [-2.42, 1.58], "range": [1011, 798], "nice": false, "zero": false}, "axis": {"orient": "left", "grid": true, "gridColor": "#A6D3DE", "gridWidth": 1.5, "domain": false, "ticks": false, "labels": false, "title": null, "values": [-2, -1, 0, 1]}}
      }
    },
    {
      "data": {"name": "lc_os"},
      "mark": {"type": "line", "color": "#111111", "strokeWidth": 2.2, "interpolate": "monotone"},
      "encoding": {
        "x": {"field": "ms", "type": "quantitative", "scale": {"domain": [0, 200], "range": [749, 1226], "nice": false, "zero": false}, "axis": {"orient": "bottom", "offset": -744, "values": [0, 10, 20, 30, 40, 50, 60, 70, 80, 90, 100, 110, 120, 130, 140, 150, 160, 170, 180, 190, 200], "labelExpr": "datum.value % 20 === 0 ? datum.label : ''", "labelPadding": 5, "title": "Time (ms)", "titleFontSize": 12, "titlePadding": 11}},
        "y": {"field": "uV", "type": "quantitative", "scale": {"domain": [-2.42, 1.58], "range": [1011, 798], "nice": false, "zero": false}, "axis": {"orient": "left", "offset": -749, "values": [-2, -1.5, -1, -0.5, 0, 0.5, 1, 1.5], "labelExpr": "datum.value === 1 ? '1' : datum.value === -1 ? '-1' : datum.value === -2 ? '-2' : ''", "labelAngle": 270, "labelAlign": "center", "labelBaseline": "alphabetic", "labelPadding": 1, "title": "Lc Amplitude (uV)", "titleFontSize": 16, "titlePadding": 10}}
      }
    },
    {
      "data": {"name": "n_hc_od_t"},
      "mark": {"type": "line", "color": "#111111", "strokeWidth": 1.7},
      "encoding": {
        "x": {"field": "x", "type": "quantitative", "scale": {"domain": [0, 100], "range": [118, 450], "nice": false, "zero": false}, "axis": {"orient": "bottom", "offset": -998, "values": [0, 10, 20, 30, 40, 50, 60, 70, 80, 90, 100], "labels": false, "title": null, "tickSize": 5, "domainColor": "#333333"}},
        "y": {"field": "y", "type": "quantitative", "scale": {"domain": [0, 10], "range": [757, 695], "nice": false, "zero": false}, "axis": {"orient": "left", "offset": -118, "values": [0, 1.25, 2.5, 3.75, 5, 6.25, 7.5, 8.75, 10], "labels": false, "title": null, "tickSize": 3, "domainWidth": 1.5}}
      }
    },
    {
      "data": {"name": "n_hc_od_f"},
      "mark": {"type": "line", "color": "#777777", "strokeWidth": 1.3},
      "encoding": {
        "x": {"field": "x", "type": "quantitative", "scale": {"domain": [0, 100], "range": [461, 657], "nice": false, "zero": false}, "axis": {"orient": "bottom", "offset": -998, "values": [0, 5, 10, 15, 20, 25, 30, 35, 40, 45, 50, 55, 60, 65, 70, 75, 80, 85, 90, 95, 100], "labels": false, "title": null, "tickSize": {"condition": {"test": "datum.value === 30", "value": 9}, "value": 4}, "domainColor": "#333333"}},
        "y": {"field": "y", "type": "quantitative", "scale": {"domain": [0, 10], "range": [757, 695], "nice": false, "zero": false}, "axis": {"orient": "left", "offset": -461, "values": [10], "labels": false, "title": null, "tickSize": 3, "domainWidth": 1.5}}
      }
    },
    {
      "data": {"name": "n_hc_os_t"},
      "mark": {"type": "line", "color": "#111111", "strokeWidth": 1.7},
      "encoding": {
        "x": {"field": "x", "type": "quantitative", "scale": {"domain": [0, 100], "range": [711, 1043], "nice": false, "zero": false}, "axis": {"orient": "bottom", "offset": -998, "values": [0, 10, 20, 30, 40, 50, 60, 70, 80, 90, 100], "labels": false, "title": null, "tickSize": 5, "domainColor": "#333333"}},
        "y": {"field": "y", "type": "quantitative", "scale": {"domain": [0, 10], "range": [757, 695], "nice": false, "zero": false}, "axis": {"orient": "left", "offset": -711, "values": [0, 1.25, 2.5, 3.75, 5, 6.25, 7.5, 8.75, 10], "labels": false, "title": null, "tickSize": 3, "domainWidth": 1.5}}
      }
    },
    {
      "data": {"name": "n_hc_os_f"},
      "mark": {"type": "line", "color": "#777777", "strokeWidth": 1.3},
      "encoding": {
        "x": {"field": "x", "type": "quantitative", "scale": {"domain": [0, 100], "range": [1050, 1248], "nice": false, "zero": false}, "axis": {"orient": "bottom", "offset": -998, "values": [0, 5, 10, 15, 20, 25, 30, 35, 40, 45, 50, 55, 60, 65, 70, 75, 80, 85, 90, 95, 100], "labels": false, "title": null, "tickSize": {"condition": {"test": "datum.value === 30", "value": 9}, "value": 4}, "domainColor": "#333333"}},
        "y": {"field": "y", "type": "quantitative", "scale": {"domain": [0, 10], "range": [757, 695], "nice": false, "zero": false}, "axis": {"orient": "left", "offset": -1050, "values": [10], "labels": false, "title": null, "tickSize": 3, "domainWidth": 1.5}}
      }
    },
    {
      "data": {"name": "n_lc_od_t"},
      "mark": {"type": "line", "color": "#111111", "strokeWidth": 1.7},
      "encoding": {
        "x": {"field": "x", "type": "quantitative", "scale": {"domain": [0, 100], "range": [119, 452], "nice": false, "zero": false}, "axis": {"orient": "bottom", "offset": -614, "values": [0, 10, 20, 30, 40, 50, 60, 70, 80, 90, 100], "labels": false, "title": null, "tickSize": 5, "domainColor": "#333333"}},
        "y": {"field": "y", "type": "quantitative", "scale": {"domain": [0, 10], "range": [1141, 1078], "nice": false, "zero": false}, "axis": {"orient": "left", "offset": -119, "values": [0, 1.25, 2.5, 3.75, 5, 6.25, 7.5, 8.75, 10], "labels": false, "title": null, "tickSize": 3, "domainWidth": 1.5}}
      }
    },
    {
      "data": {"name": "n_lc_od_f"},
      "mark": {"type": "line", "color": "#777777", "strokeWidth": 1.3},
      "encoding": {
        "x": {"field": "x", "type": "quantitative", "scale": {"domain": [0, 100], "range": [459, 656], "nice": false, "zero": false}, "axis": {"orient": "bottom", "offset": -614, "values": [0, 5, 10, 15, 20, 25, 30, 35, 40, 45, 50, 55, 60, 65, 70, 75, 80, 85, 90, 95, 100], "labels": false, "title": null, "tickSize": {"condition": {"test": "datum.value === 30", "value": 9}, "value": 4}, "domainColor": "#333333"}},
        "y": {"field": "y", "type": "quantitative", "scale": {"domain": [0, 10], "range": [1141, 1078], "nice": false, "zero": false}, "axis": {"orient": "left", "offset": -459, "values": [10], "labels": false, "title": null, "tickSize": 3, "domainWidth": 1.5}}
      }
    },
    {
      "data": {"name": "n_lc_os_t"},
      "mark": {"type": "line", "color": "#111111", "strokeWidth": 1.7},
      "encoding": {
        "x": {"field": "x", "type": "quantitative", "scale": {"domain": [0, 100], "range": [709, 1042], "nice": false, "zero": false}, "axis": {"orient": "bottom", "offset": -614, "values": [0, 10, 20, 30, 40, 50, 60, 70, 80, 90, 100], "labels": false, "title": null, "tickSize": 5, "domainColor": "#333333"}},
        "y": {"field": "y", "type": "quantitative", "scale": {"domain": [0, 10], "range": [1141, 1078], "nice": false, "zero": false}, "axis": {"orient": "left", "offset": -709, "values": [0, 1.25, 2.5, 3.75, 5, 6.25, 7.5, 8.75, 10], "labels": false, "title": null, "tickSize": 3, "domainWidth": 1.5}}
      }
    },
    {
      "data": {"name": "n_lc_os_f"},
      "mark": {"type": "line", "color": "#777777", "strokeWidth": 1.3},
      "encoding": {
        "x": {"field": "x", "type": "quantitative", "scale": {"domain": [0, 100], "range": [1050, 1247], "nice": false, "zero": false}, "axis": {"orient": "bottom", "offset": -614, "values": [0, 5, 10, 15, 20, 25, 30, 35, 40, 45, 50, 55, 60, 65, 70, 75, 80, 85, 90, 95, 100], "labels": false, "title": null, "tickSize": {"condition": {"test": "datum.value === 30", "value": 9}, "value": 4}, "domainColor": "#333333"}},
        "y": {"field": "y", "type": "quantitative", "scale": {"domain": [0, 10], "range": [1141, 1078], "nice": false, "zero": false}, "axis": {"orient": "left", "offset": -1050, "values": [10], "labels": false, "title": null, "tickSize": 3, "domainWidth": 1.5}}
      }
    },
    {
      "data": {"name": "cells"},
      "mark": {"type": "rect", "stroke": "#9A9A9A", "strokeWidth": 1.5},
      "encoding": {
        "x": {"field": "c", "type": "nominal", "scale": {"type": "band", "domain": ["P1", "P2", "OD Hc", "OD Lc", "OS Hc", "OS Lc"], "range": [300, 1061], "paddingInner": 0, "paddingOuter": 0}, "axis": null},
        "y": {"field": "p", "type": "nominal", "scale": {"type": "band", "domain": ["Parameter", "Magnitude (uV)", "MagnitudeD", "MagD/Mag Ratio", "SNR (dB)", "Artifacts"], "range": [1201, 1424], "paddingInner": 0, "paddingOuter": 0}, "axis": null},
        "color": {"field": "f", "type": "nominal", "scale": {"domain": ["none", "green", "yellow"], "range": ["#FFFFFF", "#22A84C", "#FDD22F"]}, "legend": null}
      }
    },
    {
      "data": {"name": "params"},
      "mark": {"type": "rect", "fill": "#FFFFFF", "stroke": "#9A9A9A", "strokeWidth": 1.5},
      "encoding": {
        "x": {"field": "g", "type": "nominal", "scale": {"type": "band", "domain": ["Parameter", "OD", "OS"], "range": [300, 1061], "paddingInner": 0, "paddingOuter": 0}, "axis": null},
        "y": {"field": "p", "type": "nominal", "scale": {"type": "band", "domain": ["Parameter", "Magnitude (uV)", "MagnitudeD", "MagD/Mag Ratio", "SNR (dB)", "Artifacts"], "range": [1201, 1424], "paddingInner": 0, "paddingOuter": 0}, "axis": null}
      }
    },
    {
      "data": {"name": "groups"},
      "mark": {"type": "rect", "filled": false, "stroke": "#111111", "strokeWidth": 2.5},
      "encoding": {
        "x": {"field": "g", "type": "nominal", "scale": {"type": "band", "domain": ["Parameter", "OD", "OS"], "range": [300, 1061], "paddingInner": 0, "paddingOuter": 0}, "axis": null},
        "y": {"field": "s", "type": "nominal", "scale": {"type": "band", "domain": ["all"], "range": [1201, 1424], "paddingInner": 0, "paddingOuter": 0}, "axis": null}
      }
    },
    {
      "data": {"name": "params"},
      "mark": {"type": "text", "align": "center", "baseline": "middle", "fontSize": 18, "fontWeight": "bold", "font": "DejaVu Sans Condensed, DejaVu Sans", "color": "#111111"},
      "encoding": {
        "x": {"field": "g", "type": "nominal", "scale": {"type": "band", "domain": ["Parameter", "OD", "OS"], "range": [300, 1061], "paddingInner": 0, "paddingOuter": 0}, "axis": null},
        "y": {"field": "p", "type": "nominal", "scale": {"type": "band", "domain": ["Parameter", "Magnitude (uV)", "MagnitudeD", "MagD/Mag Ratio", "SNR (dB)", "Artifacts"], "range": [1201, 1424], "paddingInner": 0, "paddingOuter": 0}, "axis": null},
        "text": {"field": "p"}
      }
    },
    {
      "data": {"name": "cells"},
      "transform": [{"filter": "datum.k === 'head'"}],
      "mark": {"type": "text", "align": "center", "baseline": "middle", "fontSize": 18, "fontWeight": "bold", "font": "DejaVu Sans Condensed, DejaVu Sans", "color": "#111111"},
      "encoding": {
        "x": {"field": "c", "type": "nominal", "scale": {"type": "band", "domain": ["P1", "P2", "OD Hc", "OD Lc", "OS Hc", "OS Lc"], "range": [300, 1061], "paddingInner": 0, "paddingOuter": 0}, "axis": null},
        "y": {"field": "p", "type": "nominal", "scale": {"type": "band", "domain": ["Parameter", "Magnitude (uV)", "MagnitudeD", "MagD/Mag Ratio", "SNR (dB)", "Artifacts"], "range": [1201, 1424], "paddingInner": 0, "paddingOuter": 0}, "axis": null},
        "text": {"field": "v"}
      }
    },
    {
      "data": {"name": "cells"},
      "transform": [{"filter": "datum.k === 'hi'"}],
      "mark": {"type": "text", "align": "center", "baseline": "middle", "fontSize": 18, "fontWeight": "bold", "font": "DejaVu Sans Condensed, DejaVu Sans"},
      "encoding": {
        "x": {"field": "c", "type": "nominal", "scale": {"type": "band", "domain": ["P1", "P2", "OD Hc", "OD Lc", "OS Hc", "OS Lc"], "range": [300, 1061], "paddingInner": 0, "paddingOuter": 0}, "axis": null},
        "y": {"field": "p", "type": "nominal", "scale": {"type": "band", "domain": ["Parameter", "Magnitude (uV)", "MagnitudeD", "MagD/Mag Ratio", "SNR (dB)", "Artifacts"], "range": [1201, 1424], "paddingInner": 0, "paddingOuter": 0}, "axis": null},
        "color": {"field": "f", "type": "nominal", "scale": {"domain": ["green", "yellow"], "range": ["#FFFFFF", "#111111"]}, "legend": null},
        "text": {"field": "v"}
      }
    },
    {
      "data": {"name": "cells"},
      "transform": [{"filter": "datum.k === 'plain'"}],
      "mark": {"type": "text", "align": "center", "baseline": "middle", "fontSize": 18, "font": "DejaVu Sans Condensed, DejaVu Sans", "color": "#111111"},
      "encoding": {
        "x": {"field": "c", "type": "nominal", "scale": {"type": "band", "domain": ["P1", "P2", "OD Hc", "OD Lc", "OS Hc", "OS Lc"], "range": [300, 1061], "paddingInner": 0, "paddingOuter": 0}, "axis": null},
        "y": {"field": "p", "type": "nominal", "scale": {"type": "band", "domain": ["Parameter", "Magnitude (uV)", "MagnitudeD", "MagD/Mag Ratio", "SNR (dB)", "Artifacts"], "range": [1201, 1424], "paddingInner": 0, "paddingOuter": 0}, "axis": null},
        "text": {"field": "v"}
      }
    },
    {
      "data": {"name": "notes"},
      "mark": {"type": "text", "align": "left", "baseline": "middle", "font": "Liberation Sans", "color": "#111111"},
      "encoding": {
        "x": {"field": "i", "type": "quantitative", "scale": {"domain": [0, 1, 2], "range": [162, 174, 873], "nice": false, "zero": false}, "axis": null},
        "y": {"field": "i", "type": "quantitative", "scale": {"domain": [0, 1, 2], "range": [1491, 1526, 1526], "nice": false, "zero": false}, "axis": null},
        "size": {"field": "i", "type": "quantitative", "scale": {"domain": [0, 1, 2], "range": [17, 21, 21], "zero": false}, "legend": null},
        "text": {"field": "t"}
      }
    },
    {
      "data": {"name": "foot"},
      "mark": {"type": "text", "align": "left", "baseline": "middle", "font": "Liberation Sans", "fontStyle": "italic", "fontSize": 11.5, "color": "#222222"},
      "encoding": {
        "x": {"field": "i", "type": "quantitative", "scale": {"domain": [0, 1, 2], "range": [162, 162, 862], "nice": false, "zero": false}, "axis": null},
        "y": {"field": "i", "type": "quantitative", "scale": {"domain": [0, 1, 2], "range": [1640, 1657, 1640], "nice": false, "zero": false}, "axis": null},
        "text": {"field": "t"}
      }
    },
    {
      "data": {"name": "credit"},
      "mark": {"type": "text", "align": "center", "baseline": "middle", "angle": 270, "font": "Liberation Sans", "fontSize": 18, "color": "#555555"},
      "encoding": {
        "x": {"field": "i", "type": "quantitative", "scale": {"domain": [0, 1], "range": [1369, 1370], "nice": false, "zero": false}, "axis": null},
        "y": {"field": "i", "type": "quantitative", "scale": {"domain": [0, 1], "range": [1623, 1624], "nice": false, "zero": false}, "axis": null},
        "text": {"field": "t"}
      }
    }
  ]
}
